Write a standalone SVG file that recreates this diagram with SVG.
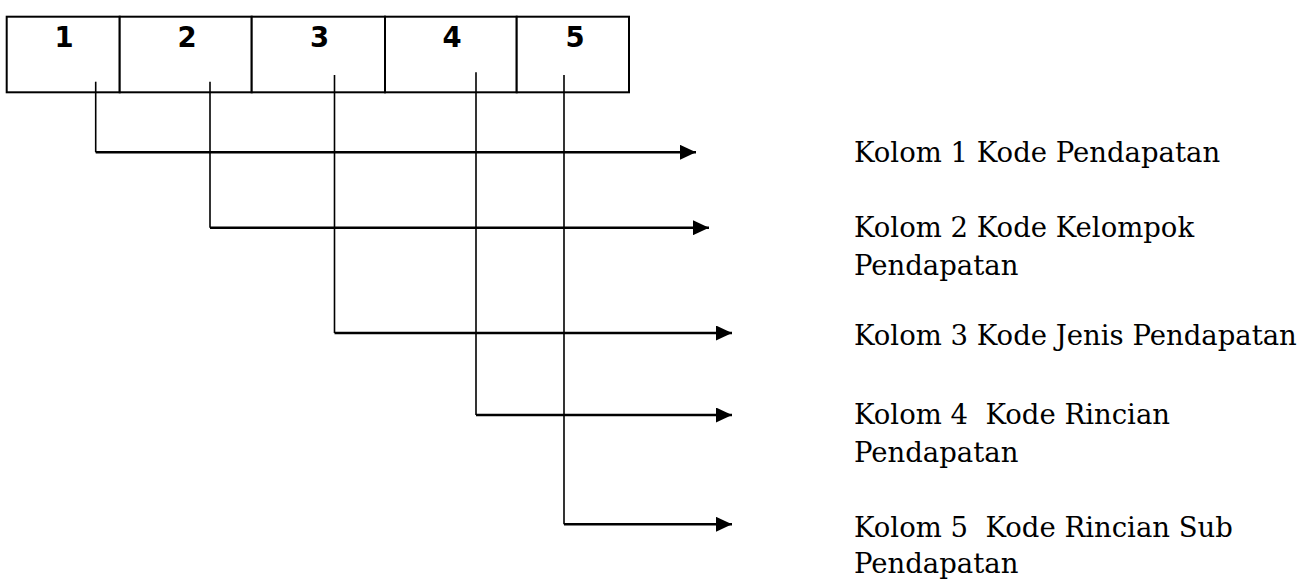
<svg xmlns="http://www.w3.org/2000/svg" width="1308" height="581" viewBox="0 0 1308 581">
  <style>
    .cell { fill: #ffffff; stroke: #000000; stroke-width: 2; }
    .digit { font-family: "DejaVu Sans", "Liberation Sans", sans-serif; font-weight: bold; font-size: 27.5px; fill: #000000; text-anchor: middle; }
    .label { font-family: "DejaVu Serif", "Liberation Serif", serif; font-size: 27.5px; fill: #000000; }
    .drop { fill: none; stroke: #000000; stroke-width: 1.6; }
    .run { fill: none; stroke: #000000; stroke-width: 2.4; marker-end: url(#head); }
  </style>
  <defs>
    <marker id="head" markerUnits="userSpaceOnUse" markerWidth="16" markerHeight="15" refX="16" refY="7.5" orient="auto">
      <path d="M0,0 L16,7.5 L0,15 Z" fill="#000000"/>
    </marker>
  </defs>
  <rect width="1308" height="581" fill="#ffffff"/>

  <!-- code table: five columns -->
  <g id="table">
    <g id="col1">
      <rect class="cell" x="6.7" y="16.7" width="113" height="75.6"/>
      <text class="digit" x="64" y="46.7">1</text>
    </g>
    <g id="col2">
      <rect class="cell" x="119.7" y="16.7" width="132" height="75.6"/>
      <text class="digit" x="187" y="46.7">2</text>
    </g>
    <g id="col3">
      <rect class="cell" x="251.7" y="16.7" width="133.3" height="75.6"/>
      <text class="digit" x="319.5" y="46.7">3</text>
    </g>
    <g id="col4">
      <rect class="cell" x="385" y="16.7" width="131.7" height="75.6"/>
      <text class="digit" x="452" y="46.7">4</text>
    </g>
    <g id="col5">
      <rect class="cell" x="516.7" y="16.7" width="112.3" height="75.6"/>
      <text class="digit" x="575" y="46.7">5</text>
    </g>
  </g>

  <!-- leader lines from each column to its description -->
  <g id="connectors">
    <path class="drop" d="M95.7,81.7 V152.3"/>
    <path class="run" d="M95.7,152.3 H696"/>
    <path class="drop" d="M210,81.7 V227.7"/>
    <path class="run" d="M210,227.7 H709"/>
    <path class="drop" d="M334.5,75 V333"/>
    <path class="run" d="M334.5,333 H732"/>
    <path class="drop" d="M476,72.3 V415"/>
    <path class="run" d="M476,415 H732"/>
    <path class="drop" d="M564,75 V524.3"/>
    <path class="run" d="M564,524.3 H732"/>
  </g>

  <!-- column descriptions -->
  <g id="desc1">
    <text class="label" x="854" y="161.7">Kolom 1 Kode Pendapatan</text>
  </g>
  <g id="desc2">
    <text class="label" x="854" y="236.7">Kolom 2 Kode Kelompok</text>
    <text class="label" x="854" y="275">Pendapatan</text>
  </g>
  <g id="desc3">
    <text class="label" x="854" y="345">Kolom 3 Kode Jenis Pendapatan</text>
  </g>
  <g id="desc4">
    <text class="label" x="854" y="424.3" xml:space="preserve">Kolom 4  Kode Rincian</text>
    <text class="label" x="854" y="461.7">Pendapatan</text>
  </g>
  <g id="desc5">
    <text class="label" x="854" y="536.7" xml:space="preserve">Kolom 5  Kode Rincian Sub</text>
    <text class="label" x="854" y="573.3">Pendapatan</text>
  </g>
</svg>
